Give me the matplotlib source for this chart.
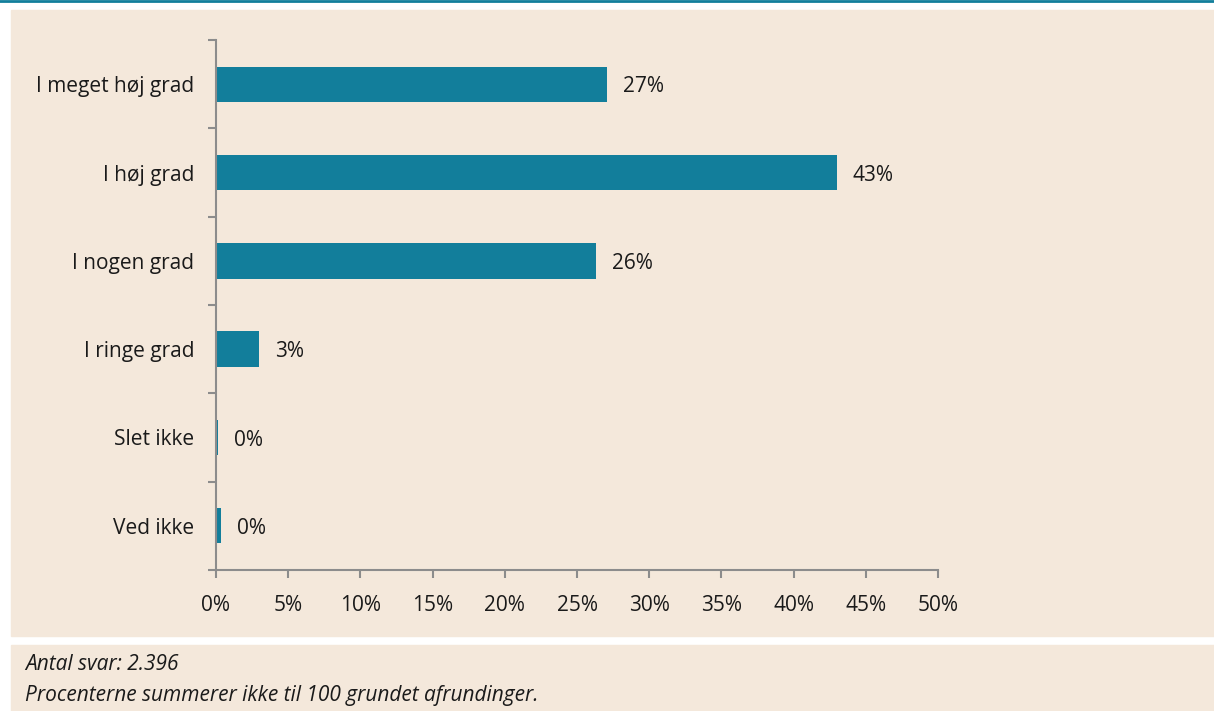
import numpy as np
import matplotlib.pyplot as plt
from matplotlib.patches import Rectangle

categories = ['I meget høj grad', 'I høj grad', 'I nogen grad', 'I ringe grad', 'Slet ikke', 'Ved ikke']
values = [27.1, 43.0, 26.3, 3.0, 0.15, 0.35]
labels = ['27%', '43%', '26%', '3%', '0%', '0%']
xticks = np.arange(0, 51, 5)
notes = ['Antal svar: 2.396', 'Procenterne summerer ikke til 100 grundet afrundinger.']

beige = '#f4e8db'
teal = '#127e9b'
grey = '#8c8c8c'
fs = 15

plt.rcParams['font.family'] = ['Open Sans', 'DejaVu Sans']

W, H = 1214, 711
fig = plt.figure(figsize=(W / 100, H / 100), dpi=100)
fig.patch.set_facecolor('white')

# panels and top rule
fig.add_artist(Rectangle((11 / W, 1 - 636 / H), 1 - 11 / W, (636 - 10) / H,
                         transform=fig.transFigure, color=beige, zorder=0))
fig.add_artist(Rectangle((11 / W, 0), 1 - 11 / W, (711 - 645) / H,
                         transform=fig.transFigure, color=beige, zorder=0))
fig.add_artist(plt.Line2D([0, 1], [1 - 1 / H, 1 - 1 / H], transform=fig.transFigure,
                          color=teal, lw=2))

ax = fig.add_axes([216 / W, 1 - 570 / H, (938 - 216) / W, (570 - 40) / H])
ax.set_facecolor('none')

y = np.arange(len(categories))
ax.barh(y, values, height=0.4, color=teal, zorder=2)
for yi, v, lab in zip(y, values, labels):
    ax.text(v + 1.1, yi + 0.03, lab, va='center', ha='left', fontsize=fs, color='#1a1a1a')

ax.set_xlim(0, 50)
ax.set_ylim(len(categories) - 0.5, -0.5)
ax.set_xticks(xticks)
ax.set_xticklabels([f'{t}%' for t in xticks], fontsize=fs, color='#1a1a1a')
ax.set_yticks(np.arange(-0.5, len(categories)), minor=False)
ax.set_yticklabels([])
ax.set_yticks(y, minor=True)
ax.set_yticklabels(categories, minor=True, fontsize=fs, color='#1a1a1a')
ax.tick_params(axis='y', which='minor', length=0, pad=15.5)
ax.tick_params(axis='y', which='major', length=6, color=grey, width=1.5)
ax.tick_params(axis='x', length=6, color=grey, width=1.5, pad=12)

for s in ['top', 'right']:
    ax.spines[s].set_visible(False)
for s in ['left', 'bottom']:
    ax.spines[s].set_color(grey)
    ax.spines[s].set_linewidth(1.5)

fig.text(25 / W, 1 - 665 / H, notes[0], style='italic', fontsize=fs, va='center', color='#1a1a1a')
fig.text(25 / W, 1 - 696 / H, notes[1], style='italic', fontsize=fs, va='center', color='#1a1a1a')

fig.savefig('out.png', dpi=100, facecolor=fig.get_facecolor())
